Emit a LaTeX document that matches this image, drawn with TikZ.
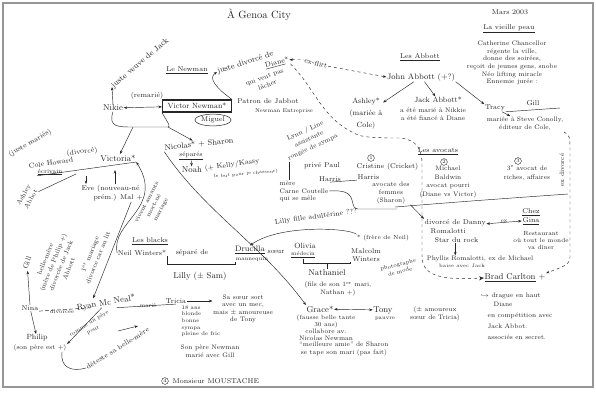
\documentclass[tikz,border=0pt]{standalone}
\usepackage{fontspec}
\usepackage{tikz}
\usetikzlibrary{arrows.meta,shapes.geometric,positioning}
\definecolor{ink}{RGB}{38,38,38}
\definecolor{scanframe}{RGB}{150,150,150}

\tikzset{
    hand/.style={text=ink, inner sep=0.5pt, align=center, font=\fontsize{7}{8.5}\selectfont},
    handS/.style={hand, font=\fontsize{5.5}{6.6}\selectfont},
    handL/.style={hand, font=\fontsize{8.5}{10}\selectfont},
    link/.style={draw=ink, line width=0.45pt},
    arr/.style={link, -{Stealth[length=3.5pt,width=2.6pt]}},
    darr/.style={link, {Stealth[length=3.5pt,width=2.6pt]}-{Stealth[length=3.5pt,width=2.6pt]}},
    flirt/.style={link, dash pattern=on 3pt off 3pt},
    numc/.style={circle, draw=ink, line width=0.4pt, inner sep=0.7pt, text=ink, font=\fontsize{5}{5}\selectfont},
}

\begin{document}
\begin{tikzpicture}[x=1pt, y=-1pt]
    \useasboundingbox (0,0) rectangle (596,392);
    \fill[white] (0,0) rectangle (596,392);
    \draw[scanframe, line width=1.3pt] (3,3) rectangle (593,387);

    % en-tete
    \node[hand, font=\fontsize{10.5}{12}\selectfont] (title) at (259,15) {À Genoa City};
    \node[hand] (mars) at (510,12) {Mars 2003};

    % la vieille peau
    \node[hand] (peau) at (509,29) {\underline{La vieille peau}};
    \node[hand, font=\fontsize{6.5}{7.6}\selectfont] (cath) at (512,63)
        {Catherine Chancellor\\régente la ville,\\donne des soirées,\\reçoit de jeunes gens, snobe\\Néo lifting miracle\\Ennemie jurée :};

    % les Abbott
    \node[hand] (abbott) at (420,57) {\underline{Les Abbott}};
    \node[hand, font=\fontsize{8}{9}\selectfont] (john) at (421,77) {John Abbott (+?)};
    \node[hand, font=\fontsize{7.5}{9}\selectfont] (jack) at (438,100) {Jack Abbott*};
    \node[hand, font=\fontsize{6.5}{8}\selectfont] (jackinfo) at (433,114) {a été marié à Nikkie\\a été fiancé à Diane};
    \node[hand, font=\fontsize{7.5}{12}\selectfont] (ashleyc) at (366,114) {Ashley*\\(mariée à\\Cole)};
    \node[hand] (tracy) at (495,108) {Tracy};
    \node[hand] (gill) at (533,103) {Gill};
    \coordinate (gillend) at (560,108);
    \node[hand, font=\fontsize{6.5}{8.5}\selectfont] (steve) at (525,124) {mariée à Steve Conolly,\\éditeur de Cole,};

    \draw[arr] (john) -- (ashleyc);
    \draw[arr] (john) -- (jack);
    \draw[arr] (john.south east) -- (tracy.north west);
    \draw[arr] (tracy) -- (steve);
    \draw[link] (tracy.south east) -- (gillend);

    % les Newman
    \node[hand] (lenewman) at (187,70) {\underline{Le Newman}};
    \node[hand] (remarie) at (147,96) {(remarié)};
    \node[handL] (nikie) at (113,108) {Nikie};
    \node[hand, draw=ink, line width=1.3pt, inner xsep=5pt, inner ysep=3pt,
        font=\fontsize{7.5}{9}\selectfont] (victor) at (197,106) {Victor Newman*};
    \node[hand] (patron) at (268,101) {Patron de Jabbot};
    \node[handS] (newent) at (284,111) {Newman Entreprise};
    \node[hand, ellipse, draw=ink, line width=0.5pt, inner sep=1pt] (miguel) at (213,120) {Miguel};
    \node[hand, rotate=40, anchor=west, font=\fontsize{8}{9}\selectfont] (veuve) at (112,87) {juste veuve de Jack};

    \draw[darr] (nikie) -- (victor);
    \draw[arr] (nikie.north) -- (veuve.west);

    \node[hand, rotate=18, anchor=west, font=\fontsize{8}{9}\selectfont] (divtxt) at (217,72) {juste divorcé de};
    \node[hand, rotate=15] (diane) at (277,63) {\underline{Diane}*};
    \node[hand, rotate=20, font=\fontsize{6.5}{8.5}\selectfont] (lacher) at (266,81) {qui veut pas\\lâcher};
    \draw[arr] (victor.north east) .. controls (216,88) and (208,78) .. (divtxt.west);

    \node[hand, rotate=-15] (exflirt) at (316,63) {ex-flirt};
    \draw[flirt, {Stealth[length=3.5pt,width=2.6pt]}-] (diane.east) -- (exflirt.west);
    \draw[flirt, -{Stealth[length=3.5pt,width=2.6pt]}] (exflirt.east) -- (john.west);

    % enfants Nikie / Victor
    \coordinate (kidl) at (133,127);
    \coordinate (kidr) at (168,127);
    \node[hand, rotate=6, font=\fontsize{8}{9}\selectfont] (nicolas) at (199,144) {Nicolas* + Sharon};
    \node[hand, font=\fontsize{6.5}{8}\selectfont] (separes) at (191,156) {\underline{séparés}};
    \node[handL] (victoria) at (118,158) {Victoria*};
    \draw[link] (nikie.south) .. controls (108,127) and (118,127) .. (kidl) -- (kidr)
        .. controls (170,126) .. (victor.south west);
    \draw[arr] (kidl) -- (victoria);
    \draw[arr] (kidr) -- (nicolas);

    \node[handL] (noah) at (192,170) {Noah};
    \node[hand, rotate=8] (kelly) at (232,165) {(+ Kelly/Kassy};
    \node[hand, rotate=5, font=\fontsize{4.5}{5}\selectfont] (chasseur) at (246,174) {le but pour le chasseur)};
    \draw[arr] (separes) -- (noah);

    % Lynn, Paul, Cricket
    \node[hand, rotate=25, font=\fontsize{6.5}{9}\selectfont] (lynn) at (309,139) {Lynn / Line\\assistante\\rongée de sympa};
    \node[hand] (paul) at (322,166) {privé Paul};
    \node[hand] (harrisp) at (330,179) {Harris};
    \node[numc] (n1) at (371,158) {1};
    \node[hand, anchor=west] (cricket) at (356,167) {Cristine (Cricket)};
    \node[hand, anchor=west] (harrisc) at (357,177) {Harris};
    \node[hand, font=\fontsize{6.5}{8}\selectfont] (avocate) at (391,193) {avocate des\\femmes\\(Sharon)};
    \draw[link] (harrisp.south) -- (harrisc.south west);

    \node[hand, anchor=west, font=\fontsize{6.5}{8}\selectfont] (mere) at (279,183) {mère};
    \node[hand, anchor=west, font=\fontsize{6.5}{8}\selectfont] (carne) at (279,191) {Carne Coutelle};
    \node[hand, anchor=west, font=\fontsize{6.5}{8}\selectfont] (mele) at (279,199) {qui se mêle};
    \coordinate (sharonend) at (397,209);
    \draw[link] (lynn.south west) -- (lynn.south west |- mere.north);
    \draw[link] (carne.east) .. controls (345,190) and (350,193) .. (352,200)
        .. controls (354,208) .. (358,209) -- (sharonend);

    % les avocats
    \node[hand] (avocats) at (438,151) {\underline{Les avocats}};
    \node[numc] (n2) at (444,162) {2};
    \node[hand, font=\fontsize{6.5}{8.5}\selectfont] (baldwin) at (448,182) {Michael\\Baldwin\\avocat pourri\\(Diane vs Victor)};
    \node[numc] (n3) at (518,161) {3};
    \node[hand, font=\fontsize{6.5}{9}\selectfont] (third) at (527,173) {3\textsuperscript{e} avocat de\\riches, affaires};
    \node[hand, rotate=90, font=\fontsize{6.5}{8}\selectfont] (exdiv) at (562,170) {ex divorcé};
    \coordinate (sepl) at (395,207);
    \coordinate (sepr) at (568,194);
    \draw[link] (sepl) .. controls (470,201) .. (sepr);

    % Romalotti, Gina, Brad
    \node[hand, align=left, anchor=west, font=\fontsize{7}{9}\selectfont] (danny) at (424,231)
        {divorcé de Danny\\\hspace{6pt}Romalotti\\\hspace{10pt}Star du rock};
    \node[hand, font=\fontsize{7}{9}\selectfont] (gina) at (531,217) {\underline{Chez}\\\underline{Gina}};
    \node[hand, font=\fontsize{6}{7}\selectfont] (resto) at (541,240) {Restaurant\\où tout le monde\\va dîner};
    \node[hand, font=\fontsize{6.5}{8}\selectfont] (phyllis) at (480,259) {Phyllis Romalotti, ex de Michael};
    \node[hand, font=\fontsize{5}{6}\selectfont] (baise) at (462,266) {baise avec Jack};
    \node[hand, font=\fontsize{8.5}{10}\selectfont] (brad) at (515,278) {\underline{Brad Carlton} +};
    \node[hand, anchor=west, font=\fontsize{6.5}{8}\selectfont] (drague) at (480,296) {$\hookrightarrow$ drague en haut};
    \node[hand, anchor=north west, align=left, font=\fontsize{6.5}{11}\selectfont] (bradinfo) at (487,301)
        {\hspace{6pt}Diane\\en compétition avec\\Jack Abbot.\\associés en secret.};

    \draw[arr] (avocate.south east) -- (danny.north west);
    \draw[darr] ([yshift=-5pt]danny.north east) -- node[above=-0.5pt, handS] (exgina) {ex} ([yshift=-4pt]gina.west);
    \draw[arr] (danny.south) -- (danny.south |- phyllis.north);
    \draw[flirt, -{Stealth[length=5pt,width=4pt]}] (diane.south east) .. controls (312,85) and (320,112) .. (345,128)
        .. controls (360,137) .. (390,138) -- (400,138) .. controls (418,140) and (422,150) .. (422,165) -- (422,255)
        .. controls (422,272) and (432,281) .. (brad.west);
    \draw[flirt, -{Stealth[length=3.5pt,width=2.6pt]}] (steve.south east) .. controls (570,136) .. (570,150)
        -- (570,255) .. controls (570,264) .. (brad.north east);

    % Cole, Victoria, Eve
    \node[hand, rotate=30] (justmar) at (30,143) {(juste mariés)};
    \node[hand, rotate=8] (divorce) at (82,152) {(divorcé)};
    \node[hand, rotate=8] (cole) at (51,163) {Cole Howard};
    \node[hand, font=\fontsize{6}{7}\selectfont] (ecrivain) at (50,172) {\underline{écrivain}};
    \node[hand, rotate=60, font=\fontsize{6.5}{8.5}\selectfont] (ashley) at (27,197) {Ashley\\Abbot};
    \node[hand, align=left, font=\fontsize{7}{9.5}\selectfont] (eve) at (112,193) {Eve (nouveau-né\\\hspace{12pt}prém.) Mal +};
    \coordinate (colemid) at (76,174);
    \coordinate (evetop) at (86,176);
    \coordinate (vicbot) at (115,170);
    \draw[link] (ecrivain.south west) -- (victoria.south east);
    \draw[link] (ashley) -- (colemid);
    \draw[arr] (evetop) -- (evetop |- eve.north);
    \draw[arr] (vicbot |- eve.north) -- (vicbot);

    % les blacks
    \node[hand] (blacks) at (150,241) {\underline{Les blacks}};
    \node[hand] (neil) at (142,253) {Neil Winters*};
    \node[hand] (separe) at (192,253) {séparé de};
    \node[hand, font=\fontsize{8}{9}\selectfont] (drucilla) at (250,250) {\underline{Drucilla}};
    \node[handS] (mannequin) at (252,259) {mannequin};
    \node[handL] (lilly) at (200,276) {Lilly (± Sam)};
    \draw[link] (neil.south east) -- ++(0,8) -| (mannequin.south west);

    \node[hand] (soeur) at (276,252) {sœur};
    \node[hand, font=\fontsize{7.5}{9}\selectfont] (olivia) at (305,246) {Olivia};
    \node[handS] (medecin) at (303,255) {\underline{médecin}};
    \node[hand] (malcolm) at (366,255) {Malcolm\\Winters};
    \node[hand, font=\fontsize{6}{7}\selectfont] (frere) at (383,238) {* (frère de Neil)};
    \node[handS, rotate=15, font=\fontsize{5.5}{7.5}\selectfont] (photo) at (399,268) {photographe\\de mode};
    \node[handL] (nathaniel) at (327,273) {Nathaniel};
    \node[hand, font=\fontsize{6.5}{8}\selectfont] (fils) at (338,289) {(fils de son 1\textsuperscript{er} mari,\\Nathan +)};
    \draw[link] (medecin.south) -- ++(0,5) -| (malcolm.south west);
    \draw[link] (nathaniel.north) -- ++(0,-6);

    \node[hand, rotate=8] (adult) at (316,217) {Lilly fille adultérine ???};
    \draw[arr] (frere.north west) .. controls (350,228) and (280,224) .. (drucilla.north);

    % Ryan, Tricia, Nina, Philip
    \node[handL, rotate=10] (ryan) at (106,303) {Ryan Mc Neal*};
    \node[hand] (tricia) at (176,301) {Tricia};
    \node[handS, align=left, anchor=north west] (tinfo) at (181,305) {18 ans\\blonde\\bonne\\sympa\\pleine de fric};
    \node[hand, font=\fontsize{6.5}{8}\selectfont] (pere) at (210,351) {Son père Newman\\marié avec Gill};
    \node[hand, font=\fontsize{6.5}{7.5}\selectfont] (sasoeur) at (243,309) {Sa sœur sort\\avec un mec,\\mais ± amoureuse\\de Tony};
    \node[handS] (mariet) at (148,306) {marié};
    \draw[arr] (tricia.east) -- (tricia.east -| sasoeur.west);
    \draw[link] ([xshift=10pt]ryan.south) -- (tricia.south);

    \node[hand, rotate=68, font=\fontsize{6.5}{8.5}\selectfont] (premier) at (94,256) {1\textsuperscript{er} mariage\\divorce car au lit};
    \node[hand, rotate=62, font=\fontsize{6}{8}\selectfont] (amant) at (154,206) {vivent amants\\mort-né\\mariage};
    \draw[arr] (neil.west) .. controls (110,222) and (165,208) .. (victoria.south east);
    \draw[arr] ([xshift=-12pt]eve.south east) -- ([xshift=-12pt]ryan.north);

    \node[hand] (nina) at (30,308) {Nina};
    \node[handS] (divorcee) at (62,312) {divorcée};
    \node[hand, font=\fontsize{7.5}{9}\selectfont] (philip) at (37,338) {Philip};
    \node[hand, font=\fontsize{6.5}{8}\selectfont] (sonpere) at (40,348) {(son père est +)};
    \node[handS, rotate=32, font=\fontsize{5.5}{7.5}\selectfont] (commepere) at (91,327) {comme un père\\pour};
    \draw[link, dash pattern=on 4pt off 2pt] (nina.south east) -- ([xshift=-14pt]ryan.south);
    \draw[arr] (nina) -- (philip);
    \draw[arr] ([xshift=-5pt]ryan.south) -- (sonpere.north east);

    \node[hand, rotate=32, anchor=west] (detest) at (86,368) {déteste sa belle-mère};
    \coordinate (bmfrom) at (118,331);
    \coordinate (bmto) at (138,326);
    \draw[link] ([xshift=-5pt]sonpere.south east) .. controls (60,368) and (72,372) .. (detest.west);
    \draw[arr] (bmfrom) -- (bmto);

    \node[hand, rotate=70] (gillL) at (27,263) {Gill};
    \node[hand, rotate=68, font=\fontsize{6.5}{8.5}\selectfont] (bellemere) at (57,264) {belle-mère\\(mère de Philip +)\\divorcée de Jack\\Abbott};
    \draw[arr] (nina.north) -- (gillL);

    % Grace, Tony
    \node[handL] (grace) at (320,309) {Grace*};
    \node[hand, font=\fontsize{6}{7}\selectfont] (fausse) at (326,321) {(fausse belle tante\\30 ans)};
    \node[hand, font=\fontsize{6.5}{7.5}\selectfont] (collab) at (326,335) {collabore av.\\Nicolas Newman};
    \node[hand, font=\fontsize{6.5}{7.5}\selectfont] (amie) at (344,349) {\textquotedblleft meilleure amie\textquotedblright{} de Sharon\\se tape son mari (pas fait)};
    \node[handL] (tony) at (383,310) {Tony};
    \node[handS] (pauvre) at (385,319) {pauvre};
    \node[hand, font=\fontsize{6.5}{7.5}\selectfont] (amoureux) at (435,314) {(± amoureux\\sœur de Tricia)};
    \draw[darr] (grace) -- (tony);
    \draw[arr] (nicolas.south west) .. controls (205,212) and (262,245) .. (grace.north west);

    % bas de page
    \node[numc] (n4) at (165,381) {4};
    \node[hand, anchor=west] (moustache) at (172,381) {Monsieur MOUSTACHE};
\end{tikzpicture}
\end{document}
